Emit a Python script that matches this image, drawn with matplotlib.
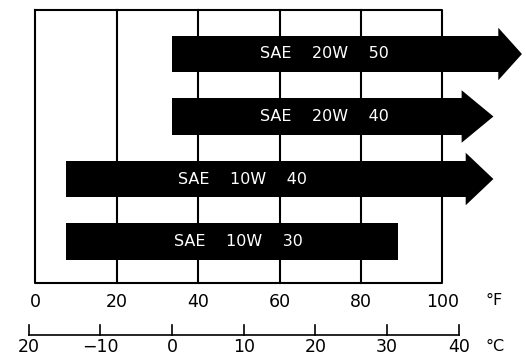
import numpy as np
import matplotlib
matplotlib.use("Agg")
import matplotlib.pyplot as plt

# oil grades and their temperature range in degrees F (as drawn on the chart)
grades = ["SAE  20W  50", "SAE  20W  40", "SAE  10W  40", "SAE  10W  30"]
low_f = [33.5, 33.5, 7.5, 7.5]
high_f = [114, 105, 106, 89]        # end of the bar body
tip_f = [119.5, 112.5, 112.5, None]  # arrow tip, None = no arrow
label_f = [71, 71, 51, 50]

f_ticks = [0, 20, 40, 60, 80, 100]
c_ticks = [-20, -10, 0, 10, 20, 30, 40]
c_labels = ["20", "\u221210", "0", "10", "20", "30", "40"]

fig = plt.figure(figsize=(5.26, 3.64), dpi=100)
ax = fig.add_axes([0, 0, 1, 1])
ax.set_xlim(-8.6, 120.5)
ax.set_ylim(4.96, -0.864)
ax.axis("off")

# frame and grid, 0..100 F
top, bottom = -0.70, 3.66
ax.plot([0, 100, 100, 0, 0], [top, top, bottom, bottom, top], color="black", lw=1.5)
for f in f_ticks[1:-1]:
    ax.plot([f, f], [top, bottom], color="black", lw=1.5)

# bars with arrow heads
rows = np.arange(len(grades))
bar_h = 0.59
head_h = 0.42
ax.barh(rows, np.array(high_f) - np.array(low_f), left=low_f, height=bar_h,
        color="black", zorder=3)
for i, name in enumerate(grades):
    if tip_f[i] is not None:
        ax.fill([high_f[i] - 0.3, tip_f[i], high_f[i] - 0.3],
                [i - head_h, i, i + head_h], color="black", zorder=3, lw=0)
    ax.text(label_f[i], i, name.replace("  ", "    "), color="white",
            fontsize=11.5, ha="center", va="center", zorder=4)

# Fahrenheit labels
for f in f_ticks:
    ax.text(f, 3.97, str(f), fontsize=12.5, ha="center", va="center")
ax.text(110.5, 3.95, "\u00b0F", fontsize=11.5, ha="left", va="center")

# Celsius scale (the printed scale is slightly off the F one, follow the print)
c_pos = [33.6 + 1.76 * c for c in c_ticks]
line_y = 4.5
ax.plot([c_pos[0], c_pos[-1]], [line_y, line_y], color="black", lw=1.2)
for p in c_pos:
    ax.plot([p, p], [line_y, line_y - 0.17], color="black", lw=1.2)
for p, lab in zip(c_pos, c_labels):
    ax.text(p, 4.69, lab, fontsize=12.5, ha="center", va="center")
ax.text(110.5, 4.68, "\u00b0C", fontsize=11.5, ha="left", va="center")

fig.savefig("out.png", dpi=100)
